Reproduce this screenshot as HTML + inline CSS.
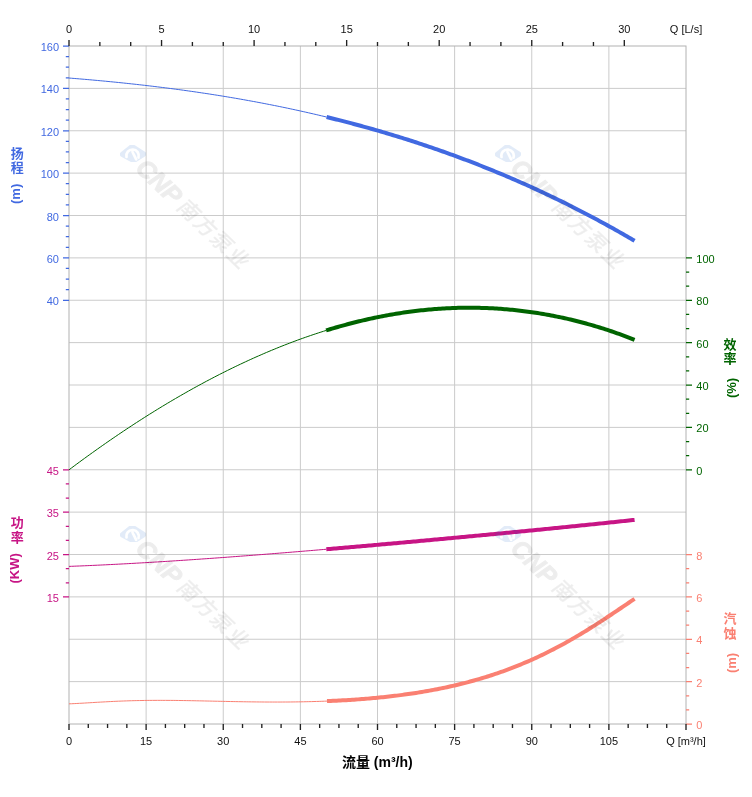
<!DOCTYPE html>
<html lang="zh"><head><meta charset="utf-8"><title>流量 曲线</title>
<style>html,body{margin:0;padding:0;background:#fff}body{width:752px;height:797px;overflow:hidden}svg{display:block}text{font-family:"Liberation Sans","Noto Sans CJK SC",sans-serif}.t{font-size:11px}.b{font-weight:bold;font-size:13px}</style></head><body>
<svg width="752" height="797" viewBox="0 0 752 797">
<rect width="752" height="797" fill="#fff"/>
<path d="M146.12 46.00V724.00M223.25 46.00V724.00M300.38 46.00V724.00M377.50 46.00V724.00M454.62 46.00V724.00M531.75 46.00V724.00M608.88 46.00V724.00M69.00 88.38H686.00M69.00 130.75H686.00M69.00 173.12H686.00M69.00 215.50H686.00M69.00 257.88H686.00M69.00 300.25H686.00M69.00 342.62H686.00M69.00 385.00H686.00M69.00 427.38H686.00M69.00 469.75H686.00M69.00 512.12H686.00M69.00 554.50H686.00M69.00 596.88H686.00M69.00 639.25H686.00M69.00 681.62H686.00" stroke="#cbcbcb" stroke-width="1" fill="none"/>
<rect x="69.00" y="46.00" width="617.00" height="678.00" stroke="#b2b2b2" stroke-width="1" fill="none"/>
<path d="M69.00 78.03L71.60 78.24L74.20 78.45L76.81 78.66L79.41 78.88L82.01 79.10L84.61 79.32L87.21 79.54L89.82 79.77L92.42 80.00L95.02 80.24L97.62 80.48L100.22 80.72L102.83 80.96L105.43 81.21L108.03 81.46L110.63 81.71L113.23 81.97L115.84 82.23L118.44 82.49L121.04 82.76L123.64 83.03L126.24 83.30L128.85 83.58L131.45 83.86L134.05 84.14L136.65 84.43L139.25 84.72L141.86 85.01L144.46 85.31L147.06 85.61L149.66 85.92L152.26 86.23L154.87 86.54L157.47 86.86L160.07 87.18L162.67 87.50L165.27 87.83L167.88 88.17L170.48 88.50L173.08 88.84L175.68 89.19L178.28 89.53L180.89 89.89L183.49 90.24L186.09 90.60L188.69 90.97L191.29 91.34L193.90 91.71L196.50 92.09L199.10 92.47L201.70 92.86L204.31 93.25L206.91 93.64L209.51 94.04L212.11 94.44L214.71 94.85L217.32 95.26L219.92 95.68L222.52 96.10L225.12 96.53L227.72 96.96L230.33 97.40L232.93 97.84L235.53 98.28L238.13 98.73L240.73 99.18L243.34 99.64L245.94 100.11L248.54 100.58L251.14 101.05L253.74 101.53L256.35 102.01L258.95 102.50L261.55 102.99L264.15 103.49L266.75 104.00L269.36 104.50L271.96 105.02L274.56 105.54L277.16 106.06L279.76 106.59L282.37 107.13L284.97 107.67L287.57 108.21L290.17 108.76L292.77 109.32L295.38 109.88L297.98 110.45L300.58 111.02L303.18 111.60L305.78 112.18L308.39 112.77L310.99 113.36L313.59 113.96L316.19 114.57L318.79 115.18L321.40 115.80L324.00 116.42L326.60 117.05" stroke="#4169e1" stroke-width="1" fill="none"/>
<path d="M326.60 117.05L328.54 117.52L330.47 117.99L332.41 118.47L334.35 118.95L336.29 119.44L338.22 119.93L340.16 120.42L342.10 120.91L344.03 121.41L345.97 121.91L347.91 122.42L349.84 122.92L351.78 123.43L353.72 123.95L355.66 124.47L357.59 124.99L359.53 125.51L361.47 126.04L363.40 126.57L365.34 127.11L367.28 127.65L369.21 128.19L371.15 128.73L373.09 129.28L375.03 129.84L376.96 130.39L378.90 130.95L380.84 131.52L382.77 132.08L384.71 132.65L386.65 133.23L388.58 133.80L390.52 134.39L392.46 134.97L394.40 135.56L396.33 136.15L398.27 136.75L400.21 137.35L402.14 137.95L404.08 138.56L406.02 139.17L407.95 139.78L409.89 140.40L411.83 141.02L413.77 141.65L415.70 142.27L417.64 142.91L419.58 143.54L421.51 144.19L423.45 144.83L425.39 145.48L427.32 146.13L429.26 146.79L431.20 147.45L433.14 148.11L435.07 148.78L437.01 149.45L438.95 150.13L440.88 150.81L442.82 151.49L444.76 152.18L446.69 152.87L448.63 153.56L450.57 154.26L452.51 154.97L454.44 155.67L456.38 156.39L458.32 157.10L460.25 157.82L462.19 158.54L464.13 159.27L466.06 160.00L468.00 160.74L469.94 161.48L471.88 162.22L473.81 162.97L475.75 163.73L477.69 164.48L479.62 165.24L481.56 166.01L483.50 166.78L485.43 167.55L487.37 168.33L489.31 169.11L491.25 169.90L493.18 170.69L495.12 171.48L497.06 172.28L498.99 173.09L500.93 173.90L502.87 174.71L504.80 175.53L506.74 176.35L508.68 177.17L510.62 178.00L512.55 178.84L514.49 179.67L516.43 180.52L518.36 181.36L520.30 182.22L522.24 183.07L524.17 183.93L526.11 184.80L528.05 185.67L529.99 186.54L531.92 187.42L533.86 188.31L535.80 189.19L537.73 190.09L539.67 190.98L541.61 191.89L543.54 192.79L545.48 193.70L547.42 194.62L549.36 195.54L551.29 196.47L553.23 197.40L555.17 198.33L557.10 199.27L559.04 200.21L560.98 201.16L562.91 202.11L564.85 203.07L566.79 204.03L568.73 205.00L570.66 205.97L572.60 206.95L574.54 207.93L576.47 208.92L578.41 209.91L580.35 210.91L582.28 211.91L584.22 212.92L586.16 213.93L588.10 214.94L590.03 215.96L591.97 216.99L593.91 218.02L595.84 219.06L597.78 220.10L599.72 221.14L601.65 222.19L603.59 223.25L605.53 224.31L607.47 225.37L609.40 226.44L611.34 227.52L613.28 228.60L615.21 229.69L617.15 230.78L619.09 231.87L621.02 232.97L622.96 234.08L624.90 235.19L626.84 236.31L628.77 237.43L630.71 238.56L632.65 239.69L634.58 240.83" stroke="#4169e1" stroke-width="4" fill="none"/>
<path d="M69.00 469.83L71.60 467.89L74.19 465.95L76.79 464.03L79.39 462.12L81.98 460.21L84.58 458.32L87.18 456.43L89.78 454.56L92.37 452.69L94.97 450.84L97.57 448.99L100.16 447.16L102.76 445.33L105.36 443.52L107.95 441.71L110.55 439.92L113.15 438.14L115.75 436.36L118.34 434.60L120.94 432.85L123.54 431.11L126.13 429.38L128.73 427.66L131.33 425.95L133.92 424.25L136.52 422.56L139.12 420.88L141.72 419.22L144.31 417.56L146.91 415.92L149.51 414.28L152.10 412.66L154.70 411.05L157.30 409.45L159.89 407.86L162.49 406.28L165.09 404.71L167.68 403.15L170.28 401.61L172.88 400.07L175.48 398.55L178.07 397.04L180.67 395.54L183.27 394.05L185.86 392.57L188.46 391.10L191.06 389.65L193.65 388.20L196.25 386.77L198.85 385.35L201.45 383.94L204.04 382.54L206.64 381.15L209.24 379.78L211.83 378.41L214.43 377.06L217.03 375.72L219.62 374.39L222.22 373.08L224.82 371.77L227.42 370.48L230.01 369.19L232.61 367.92L235.21 366.67L237.80 365.42L240.40 364.19L243.00 362.96L245.59 361.75L248.19 360.56L250.79 359.37L253.38 358.20L255.98 357.03L258.58 355.89L261.18 354.75L263.77 353.62L266.37 352.51L268.97 351.41L271.56 350.32L274.16 349.25L276.76 348.19L279.35 347.14L281.95 346.10L284.55 345.08L287.15 344.07L289.74 343.07L292.34 342.08L294.94 341.11L297.53 340.15L300.13 339.20L302.73 338.27L305.32 337.35L307.92 336.44L310.52 335.55L313.12 334.66L315.71 333.80L318.31 332.94L320.91 332.10L323.50 331.27L326.10 330.46" stroke="#006400" stroke-width="1" fill="none"/>
<path d="M326.10 330.46L328.04 329.86L329.98 329.27L331.92 328.68L333.86 328.11L335.80 327.54L337.74 326.98L339.68 326.42L341.62 325.88L343.56 325.34L345.50 324.81L347.44 324.29L349.38 323.77L351.32 323.26L353.26 322.76L355.20 322.27L357.14 321.79L359.08 321.31L361.02 320.85L362.96 320.39L364.90 319.93L366.84 319.49L368.78 319.05L370.72 318.63L372.66 318.21L374.60 317.79L376.54 317.39L378.48 316.99L380.42 316.61L382.36 316.23L384.30 315.85L386.24 315.49L388.18 315.14L390.12 314.79L392.06 314.45L394.01 314.12L395.95 313.80L397.89 313.48L399.83 313.17L401.77 312.88L403.71 312.59L405.65 312.31L407.59 312.03L409.53 311.77L411.47 311.51L413.41 311.26L415.35 311.02L417.29 310.79L419.23 310.57L421.17 310.35L423.11 310.15L425.05 309.95L426.99 309.76L428.93 309.58L430.87 309.40L432.81 309.24L434.75 309.08L436.69 308.93L438.63 308.80L440.57 308.67L442.51 308.54L444.45 308.43L446.39 308.32L448.33 308.23L450.27 308.14L452.21 308.06L454.15 307.99L456.09 307.93L458.03 307.87L459.97 307.83L461.91 307.79L463.85 307.76L465.79 307.74L467.73 307.73L469.67 307.73L471.61 307.73L473.55 307.75L475.49 307.77L477.43 307.80L479.37 307.84L481.31 307.89L483.25 307.95L485.19 308.02L487.13 308.09L489.07 308.17L491.01 308.27L492.95 308.37L494.89 308.48L496.83 308.59L498.77 308.72L500.71 308.86L502.65 309.00L504.59 309.15L506.53 309.31L508.47 309.48L510.41 309.66L512.35 309.85L514.29 310.05L516.23 310.25L518.17 310.47L520.11 310.69L522.05 310.92L523.99 311.16L525.94 311.41L527.88 311.67L529.82 311.93L531.76 312.21L533.70 312.49L535.64 312.78L537.58 313.08L539.52 313.39L541.46 313.71L543.40 314.04L545.34 314.38L547.28 314.72L549.22 315.08L551.16 315.44L553.10 315.81L555.04 316.19L556.98 316.59L558.92 316.98L560.86 317.39L562.80 317.81L564.74 318.24L566.68 318.67L568.62 319.12L570.56 319.57L572.50 320.03L574.44 320.50L576.38 320.98L578.32 321.47L580.26 321.97L582.20 322.48L584.14 323.00L586.08 323.53L588.02 324.06L589.96 324.61L591.90 325.17L593.84 325.73L595.78 326.31L597.72 326.89L599.66 327.48L601.60 328.09L603.54 328.70L605.48 329.32L607.42 329.96L609.36 330.60L611.30 331.25L613.24 331.91L615.18 332.59L617.12 333.27L619.06 333.96L621.00 334.67L622.94 335.38L624.88 336.10L626.82 336.84L628.76 337.58L630.70 338.34L632.64 339.11L634.58 339.88" stroke="#006400" stroke-width="4" fill="none"/>
<path d="M69.00 566.40L71.60 566.30L74.20 566.20L76.80 566.09L79.40 565.99L81.99 565.88L84.59 565.77L87.19 565.66L89.79 565.54L92.39 565.43L94.99 565.31L97.59 565.19L100.19 565.07L102.79 564.94L105.39 564.82L107.98 564.69L110.58 564.56L113.18 564.43L115.78 564.30L118.38 564.16L120.98 564.02L123.58 563.89L126.18 563.75L128.78 563.60L131.38 563.46L133.97 563.32L136.57 563.17L139.17 563.02L141.77 562.87L144.37 562.72L146.97 562.57L149.57 562.41L152.17 562.26L154.77 562.10L157.37 561.94L159.96 561.78L162.56 561.62L165.16 561.46L167.76 561.29L170.36 561.13L172.96 560.96L175.56 560.79L178.16 560.62L180.76 560.45L183.36 560.28L185.95 560.10L188.55 559.93L191.15 559.75L193.75 559.57L196.35 559.40L198.95 559.22L201.55 559.03L204.15 558.85L206.75 558.67L209.35 558.49L211.94 558.30L214.54 558.11L217.14 557.93L219.74 557.74L222.34 557.55L224.94 557.36L227.54 557.17L230.14 556.97L232.74 556.78L235.34 556.58L237.93 556.39L240.53 556.19L243.13 555.99L245.73 555.80L248.33 555.60L250.93 555.40L253.53 555.20L256.13 554.99L258.73 554.79L261.33 554.59L263.92 554.38L266.52 554.18L269.12 553.97L271.72 553.77L274.32 553.56L276.92 553.35L279.52 553.14L282.12 552.93L284.72 552.72L287.32 552.51L289.91 552.30L292.51 552.09L295.11 551.87L297.71 551.66L300.31 551.44L302.91 551.23L305.51 551.01L308.11 550.80L310.71 550.58L313.31 550.36L315.90 550.14L318.50 549.92L321.10 549.70L323.70 549.48L326.30 549.26" stroke="#c71585" stroke-width="1" fill="none"/>
<path d="M326.30 549.26L328.24 549.10L330.18 548.93L332.12 548.77L334.06 548.60L335.99 548.44L337.93 548.27L339.87 548.10L341.81 547.94L343.75 547.77L345.69 547.60L347.63 547.43L349.57 547.26L351.51 547.10L353.44 546.93L355.38 546.76L357.32 546.59L359.26 546.42L361.20 546.25L363.14 546.08L365.08 545.91L367.02 545.74L368.96 545.57L370.89 545.39L372.83 545.22L374.77 545.05L376.71 544.88L378.65 544.71L380.59 544.54L382.53 544.36L384.47 544.19L386.41 544.02L388.34 543.84L390.28 543.67L392.22 543.50L394.16 543.32L396.10 543.15L398.04 542.97L399.98 542.80L401.92 542.62L403.86 542.45L405.79 542.27L407.73 542.10L409.67 541.92L411.61 541.74L413.55 541.57L415.49 541.39L417.43 541.21L419.37 541.04L421.31 540.86L423.24 540.68L425.18 540.50L427.12 540.33L429.06 540.15L431.00 539.97L432.94 539.79L434.88 539.61L436.82 539.43L438.76 539.26L440.69 539.08L442.63 538.90L444.57 538.72L446.51 538.54L448.45 538.36L450.39 538.18L452.33 538.00L454.27 537.81L456.21 537.63L458.14 537.45L460.08 537.27L462.02 537.09L463.96 536.91L465.90 536.72L467.84 536.54L469.78 536.36L471.72 536.18L473.66 535.99L475.59 535.81L477.53 535.63L479.47 535.44L481.41 535.26L483.35 535.08L485.29 534.89L487.23 534.71L489.17 534.52L491.11 534.34L493.04 534.15L494.98 533.97L496.92 533.78L498.86 533.60L500.80 533.41L502.74 533.22L504.68 533.04L506.62 532.85L508.56 532.66L510.49 532.48L512.43 532.29L514.37 532.10L516.31 531.91L518.25 531.72L520.19 531.54L522.13 531.35L524.07 531.16L526.01 530.97L527.94 530.78L529.88 530.59L531.82 530.40L533.76 530.21L535.70 530.02L537.64 529.83L539.58 529.64L541.52 529.45L543.46 529.26L545.39 529.06L547.33 528.87L549.27 528.68L551.21 528.49L553.15 528.29L555.09 528.10L557.03 527.91L558.97 527.71L560.91 527.52L562.84 527.32L564.78 527.13L566.72 526.94L568.66 526.74L570.60 526.54L572.54 526.35L574.48 526.15L576.42 525.96L578.36 525.76L580.29 525.56L582.23 525.36L584.17 525.17L586.11 524.97L588.05 524.77L589.99 524.57L591.93 524.37L593.87 524.17L595.81 523.97L597.74 523.77L599.68 523.57L601.62 523.37L603.56 523.17L605.50 522.97L607.44 522.76L609.38 522.56L611.32 522.36L613.26 522.16L615.19 521.95L617.13 521.75L619.07 521.54L621.01 521.34L622.95 521.13L624.89 520.93L626.83 520.72L628.77 520.51L630.71 520.31L632.64 520.10L634.58 519.89" stroke="#c71585" stroke-width="4" fill="none"/>
<path d="M69.00 703.84L71.61 703.74L74.21 703.61L76.82 703.48L79.42 703.34L82.03 703.20L84.64 703.05L87.24 702.89L89.85 702.74L92.45 702.58L95.06 702.42L97.67 702.27L100.27 702.12L102.88 701.97L105.48 701.83L108.09 701.69L110.70 701.56L113.30 701.43L115.91 701.31L118.52 701.20L121.12 701.09L123.73 700.99L126.33 700.90L128.94 700.81L131.55 700.73L134.15 700.66L136.76 700.60L139.36 700.55L141.97 700.50L144.58 700.46L147.18 700.42L149.79 700.40L152.39 700.38L155.00 700.36L157.61 700.35L160.21 700.35L162.82 700.36L165.42 700.37L168.03 700.38L170.64 700.40L173.24 700.42L175.85 700.45L178.45 700.48L181.06 700.52L183.67 700.56L186.27 700.60L188.88 700.65L191.48 700.69L194.09 700.74L196.70 700.80L199.30 700.85L201.91 700.90L204.52 700.96L207.12 701.02L209.73 701.07L212.33 701.13L214.94 701.19L217.55 701.24L220.15 701.30L222.76 701.36L225.36 701.41L227.97 701.47L230.58 701.52L233.18 701.57L235.79 701.62L238.39 701.67L241.00 701.71L243.61 701.76L246.21 701.80L248.82 701.84L251.42 701.87L254.03 701.90L256.64 701.93L259.24 701.96L261.85 701.98L264.45 702.00L267.06 702.02L269.67 702.03L272.27 702.04L274.88 702.04L277.48 702.04L280.09 702.04L282.70 702.03L285.30 702.01L287.91 702.00L290.52 701.97L293.12 701.94L295.73 701.91L298.33 701.87L300.94 701.83L303.55 701.78L306.15 701.73L308.76 701.67L311.36 701.61L313.97 701.53L316.58 701.46L319.18 701.38L321.79 701.29L324.39 701.19L327.00 701.09" stroke="#fa8072" stroke-width="1" fill="none"/>
<path d="M327.00 701.09L328.93 701.01L330.87 700.93L332.80 700.85L334.74 700.76L336.67 700.66L338.61 700.56L340.54 700.46L342.48 700.36L344.41 700.25L346.34 700.14L348.28 700.02L350.21 699.90L352.15 699.77L354.08 699.64L356.02 699.51L357.95 699.37L359.89 699.23L361.82 699.08L363.76 698.93L365.69 698.78L367.62 698.62L369.56 698.45L371.49 698.28L373.43 698.11L375.36 697.93L377.30 697.74L379.23 697.55L381.17 697.36L383.10 697.16L385.03 696.96L386.97 696.75L388.90 696.53L390.84 696.31L392.77 696.08L394.71 695.85L396.64 695.61L398.58 695.37L400.51 695.12L402.44 694.87L404.38 694.60L406.31 694.34L408.25 694.06L410.18 693.78L412.12 693.50L414.05 693.21L415.99 692.91L417.92 692.60L419.86 692.29L421.79 691.97L423.72 691.65L425.66 691.31L427.59 690.98L429.53 690.63L431.46 690.28L433.40 689.91L435.33 689.55L437.27 689.17L439.20 688.79L441.13 688.40L443.07 688.00L445.00 687.59L446.94 687.18L448.87 686.75L450.81 686.32L452.74 685.89L454.68 685.44L456.61 684.98L458.55 684.52L460.48 684.05L462.41 683.56L464.35 683.07L466.28 682.58L468.22 682.07L470.15 681.55L472.09 681.02L474.02 680.49L475.96 679.94L477.89 679.39L479.82 678.82L481.76 678.25L483.69 677.67L485.63 677.07L487.56 676.47L489.50 675.85L491.43 675.23L493.37 674.59L495.30 673.95L497.23 673.29L499.17 672.63L501.10 671.95L503.04 671.26L504.97 670.56L506.91 669.86L508.84 669.13L510.78 668.40L512.71 667.66L514.65 666.91L516.58 666.14L518.51 665.36L520.45 664.57L522.38 663.77L524.32 662.96L526.25 662.14L528.19 661.30L530.12 660.46L532.06 659.60L533.99 658.73L535.92 657.84L537.86 656.95L539.79 656.04L541.73 655.12L543.66 654.19L545.60 653.24L547.53 652.29L549.47 651.32L551.40 650.34L553.33 649.35L555.27 648.34L557.20 647.33L559.14 646.30L561.07 645.26L563.01 644.20L564.94 643.14L566.88 642.06L568.81 640.98L570.75 639.88L572.68 638.77L574.61 637.64L576.55 636.51L578.48 635.36L580.42 634.21L582.35 633.04L584.29 631.87L586.22 630.68L588.16 629.48L590.09 628.28L592.02 627.06L593.96 625.84L595.89 624.60L597.83 623.36L599.76 622.11L601.70 620.85L603.63 619.59L605.57 618.32L607.50 617.04L609.44 615.76L611.37 614.47L613.30 613.18L615.24 611.88L617.17 610.58L619.11 609.28L621.04 607.98L622.98 606.67L624.91 605.37L626.85 604.06L628.78 602.76L630.71 601.46L632.65 600.17L634.58 598.88" stroke="#fa8072" stroke-width="4" fill="none"/>
<defs><mask id="wk"><rect x="-16" y="-13" width="32" height="26" fill="#fff"/><path d="M-6.5 3.5A6.2 6.2 0 1 1 5.5 4M-0.5 -1.5L3.2 5.8" fill="none" stroke="#000" stroke-width="2.7" stroke-linecap="round"/></mask><g id="wl"><path d="M-10.5 0.8L-0.8 -6.8L10.5 0.6L0.6 6.8Z" fill="#0a5cc4" stroke="#0a5cc4" stroke-width="5.5" stroke-linejoin="round" mask="url(#wk)" opacity="0.115"/></g><g id="wm" opacity="0.066"><text x="12" y="10.5" fill="#000" stroke="#000" stroke-width="1.1" style="font-size:25px;font-weight:bold;font-style:italic">CNP</text><text x="70" y="9.5" fill="#000" stroke="#000" stroke-width="0.3" style="font-size:21px;font-weight:500;letter-spacing:1.8px" transform="skewX(-10)">南方泵业</text></g></defs><use href="#wl" transform="translate(133,153.5)"/><use href="#wm" transform="translate(133,153.5) rotate(44)"/><use href="#wl" transform="translate(508,153.5)"/><use href="#wm" transform="translate(508,153.5) rotate(44)"/><use href="#wl" transform="translate(133,534)"/><use href="#wm" transform="translate(133,534) rotate(44)"/><use href="#wl" transform="translate(508,534)"/><use href="#wm" transform="translate(508,534) rotate(44)"/>
<path d="M69.00 46.00h-6M69.00 88.38h-6M69.00 130.75h-6M69.00 173.12h-6M69.00 215.50h-6M69.00 257.88h-6M69.00 300.25h-6M69.00 56.59h-3.2M69.00 67.19h-3.2M69.00 77.78h-3.2M69.00 98.97h-3.2M69.00 109.56h-3.2M69.00 120.16h-3.2M69.00 141.34h-3.2M69.00 151.94h-3.2M69.00 162.53h-3.2M69.00 183.72h-3.2M69.00 194.31h-3.2M69.00 204.91h-3.2M69.00 226.09h-3.2M69.00 236.69h-3.2M69.00 247.28h-3.2M69.00 268.47h-3.2M69.00 279.06h-3.2M69.00 289.66h-3.2" stroke="#4169e1" stroke-width="1.25" fill="none"/>
<path d="M69.00 469.75h-6M69.00 512.12h-6M69.00 554.50h-6M69.00 596.88h-6M69.00 483.88h-3.2M69.00 498.00h-3.2M69.00 526.25h-3.2M69.00 540.38h-3.2M69.00 568.62h-3.2M69.00 582.75h-3.2" stroke="#c71585" stroke-width="1.25" fill="none"/>
<path d="M686.00 257.88h6M686.00 300.25h6M686.00 342.62h6M686.00 385.00h6M686.00 427.38h6M686.00 469.75h6M686.00 272.00h3.2M686.00 286.12h3.2M686.00 314.38h3.2M686.00 328.50h3.2M686.00 356.75h3.2M686.00 370.88h3.2M686.00 399.12h3.2M686.00 413.25h3.2M686.00 441.50h3.2M686.00 455.62h3.2" stroke="#006400" stroke-width="1.25" fill="none"/>
<path d="M686.00 554.50h6M686.00 596.88h6M686.00 639.25h6M686.00 681.62h6M686.00 724.00h6M686.00 568.62h3.2M686.00 582.75h3.2M686.00 611.00h3.2M686.00 625.12h3.2M686.00 653.38h3.2M686.00 667.50h3.2M686.00 695.75h3.2M686.00 709.88h3.2" stroke="#fa8072" stroke-width="1.25" fill="none"/>
<path d="M69.00 724.00v6M146.12 724.00v6M223.25 724.00v6M300.38 724.00v6M377.50 724.00v6M454.62 724.00v6M531.75 724.00v6M608.88 724.00v6M686.00 724.00v6M88.28 724.00v4M107.56 724.00v4M126.84 724.00v4M165.41 724.00v4M184.69 724.00v4M203.97 724.00v4M242.53 724.00v4M261.81 724.00v4M281.09 724.00v4M319.66 724.00v4M338.94 724.00v4M358.22 724.00v4M396.78 724.00v4M416.06 724.00v4M435.34 724.00v4M473.91 724.00v4M493.19 724.00v4M512.47 724.00v4M551.03 724.00v4M570.31 724.00v4M589.59 724.00v4M628.16 724.00v4M647.44 724.00v4M666.72 724.00v4M69.00 46.00v-6M99.85 46.00v-4M130.70 46.00v-4M161.55 46.00v-6M192.40 46.00v-4M223.25 46.00v-4M254.10 46.00v-6M284.95 46.00v-4M315.80 46.00v-4M346.65 46.00v-6M377.50 46.00v-4M408.35 46.00v-4M439.20 46.00v-6M470.05 46.00v-4M500.90 46.00v-4M531.75 46.00v-6M562.60 46.00v-4M593.45 46.00v-4M624.30 46.00v-6" stroke="#222" stroke-width="1.35" fill="none"/>
<g class="t" fill="#111" text-anchor="middle">
<text x="69.0" y="32.8">0</text>
<text x="161.6" y="32.8">5</text>
<text x="254.1" y="32.8">10</text>
<text x="346.7" y="32.8">15</text>
<text x="439.2" y="32.8">20</text>
<text x="531.8" y="32.8">25</text>
<text x="624.3" y="32.8">30</text>
<text x="686.0" y="32.8">Q [L/s]</text>
<text x="69.0" y="745">0</text>
<text x="146.1" y="745">15</text>
<text x="223.2" y="745">30</text>
<text x="300.4" y="745">45</text>
<text x="377.5" y="745">60</text>
<text x="454.6" y="745">75</text>
<text x="531.8" y="745">90</text>
<text x="608.9" y="745">105</text>
<text x="686.0" y="745">Q [m³/h]</text>
</g>
<g class="t" fill="#4169e1" text-anchor="end">
<text x="59.0" y="51.0">160</text>
<text x="59.0" y="93.4">140</text>
<text x="59.0" y="135.8">120</text>
<text x="59.0" y="178.1">100</text>
<text x="59.0" y="220.5">80</text>
<text x="59.0" y="262.9">60</text>
<text x="59.0" y="305.2">40</text>
</g>
<g class="t" fill="#c71585" text-anchor="end">
<text x="59.0" y="474.8">45</text>
<text x="59.0" y="517.1">35</text>
<text x="59.0" y="559.5">25</text>
<text x="59.0" y="601.9">15</text>
</g>
<g class="t" fill="#006400" text-anchor="start">
<text x="696.3" y="262.9">100</text>
<text x="696.3" y="305.2">80</text>
<text x="696.3" y="347.6">60</text>
<text x="696.3" y="390.0">40</text>
<text x="696.3" y="432.4">20</text>
<text x="696.3" y="474.8">0</text>
</g>
<g class="t" fill="#fa8072" text-anchor="start">
<text x="696.3" y="559.5">8</text>
<text x="696.3" y="601.9">6</text>
<text x="696.3" y="644.2">4</text>
<text x="696.3" y="686.6">2</text>
<text x="696.3" y="729.0">0</text>
</g>
<g class="b" fill="#4169e1" text-anchor="middle">
<text x="17.3" y="157.5">扬</text><text x="17.3" y="172.3">程</text>
<text transform="translate(19.80,193.9) rotate(-90)">(m)</text>
</g>
<g class="b" fill="#c71585" text-anchor="middle">
<text x="17.3" y="527.2">功</text><text x="17.3" y="542.3">率</text>
<text transform="translate(18.85,568.4) rotate(-90)">(KW)</text>
</g>
<g class="b" fill="#006400" text-anchor="middle">
<text x="730" y="348.7">效</text><text x="730" y="363.1">率</text>
<text transform="translate(735.70,388) rotate(-90)">(%)</text>
</g>
<g class="b" fill="#fa8072" text-anchor="middle">
<text x="730" y="623.4">汽</text><text x="730" y="638.4">蚀</text>
<text transform="translate(735.70,663) rotate(-90)">(m)</text>
</g>
<text x="377.3" y="767.4" text-anchor="middle" fill="#000" style="font-weight:bold;font-size:14px">流量 (m³/h)</text>
</svg></body></html>
